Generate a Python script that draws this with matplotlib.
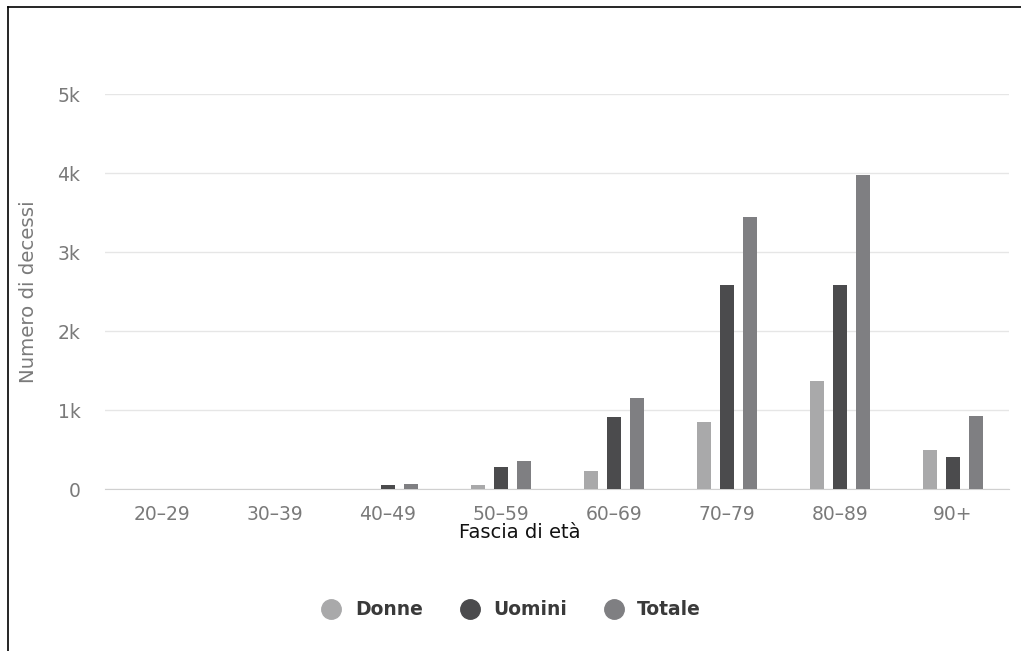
import matplotlib.pyplot as plt
import numpy as np
from matplotlib.lines import Line2D

fasce = ["20–29", "30–39", "40–49", "50–59", "60–69", "70–79", "80–89", "90+"]
donne = [0, 2, 10, 60, 240, 850, 1376, 496]
uomini = [0, 6, 55, 278, 913, 2588, 2588, 408]
totale = [0, 8, 75, 366, 1153, 3443, 3973, 934]

serie = ["Donne", "Uomini", "Totale"]
colori = ["#a9a9aa", "#4b4b4d", "#7f7f82"]

fig = plt.figure(figsize=(10.21, 6.51), dpi=100)
ax = fig.add_axes([0.1033, 0.2481, 0.8854, 0.6075])

x = np.arange(len(fasce))
larghezza = 0.125
passo = 0.2

# one group of three bars per age band
for k, valori in enumerate([donne, uomini, totale]):
    ax.bar(x + (k - 1) * passo, valori, width=larghezza, color=colori[k],
           label=serie[k], zorder=3)

ax.set_xlim(-0.5, len(fasce) - 0.5)
ax.set_ylim(0, 5000)
ax.set_yticks([0, 1000, 2000, 3000, 4000, 5000])
ax.set_yticklabels(["0", "1k", "2k", "3k", "4k", "5k"])
ax.set_xticks(x)
ax.set_xticklabels(fasce)

ax.grid(axis="y", color="#e6e6e6", linewidth=1, zorder=0)
for s in ["top", "right", "left"]:
    ax.spines[s].set_visible(False)
ax.spines["bottom"].set_color("#d0d0d0")
ax.tick_params(axis="both", length=0, colors="#7a7a7a", labelsize=13.5)
ax.tick_params(axis="y", pad=18)
ax.tick_params(axis="x", pad=11)

ax.set_ylabel("Numero di decessi", color="#7a7a7a", fontsize=14.2, labelpad=14)
fig.text(0.509, 0.182, "Fascia di età", ha="center", va="center",
         fontsize=14, color="#111111")

# legend with round markers under the chart
handles = [Line2D([0], [0], marker="o", linestyle="", markersize=14,
                  markerfacecolor=c, markeredgecolor=c) for c in colori]
leg = fig.legend(handles, serie, loc="center", bbox_to_anchor=(0.4965, 0.063),
                 ncol=3, frameon=False, handletextpad=0.25, columnspacing=1.5,
                 prop={"weight": "bold", "size": 13.5})
for t in leg.get_texts():
    t.set_color("#3a3a3a")

# frame lines on the left and top of the picture
fig.add_artist(Line2D([0.0078, 0.0078], [0.0, 0.9893], color="black", linewidth=1.2))
fig.add_artist(Line2D([0.0078, 1.0], [0.9893, 0.9893], color="black", linewidth=1.2))

fig.savefig("out.png", dpi=100)
